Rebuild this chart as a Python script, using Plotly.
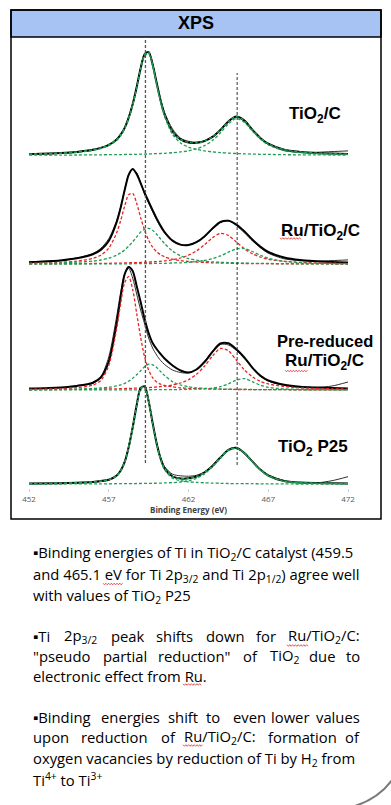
import plotly.graph_objects as go

# ---------------- data ----------------
BE = [452, 454, 455, 456, 456.5, 457, 457.5, 457.75, 458, 458.25, 458.5, 458.75, 459, 459.25,
      459.5, 459.75, 460, 460.25, 460.5, 461, 461.5, 462, 462.5, 463, 463.5, 464, 464.5, 465,
      465.5, 466, 466.5, 467, 468, 469, 470, 471, 472]

# TiO2/C
TIO2C_RAW = [1.0, 2.2, 3.4, 5.2, 7.8, 10.0, 16.8, 21.5, 28.2, 38.5, 51.8, 69.0, 87.6, 101.8, 103.9, 91.6, 73.9, 56.4, 43.0, 26.5, 17.3, 14.2, 13.3, 14.8, 18.9, 25.8, 34.3, 38.6, 35.6, 26.1, 17.2, 11.2, 4.8, 3.3, 3.2, 3.9, 4.6]
TIO2C_FIT = [1.4, 2.5, 3.6, 5.7, 7.6, 10.6, 16.1, 20.9, 27.6, 37.8, 51.2, 68.4, 87.3, 101.2, 103.3, 91.2, 72.8, 55.1, 41.2, 23.9, 16.2, 13.1, 12.7, 14.4, 18.6, 25.5, 34.0, 38.9, 34.9, 25.8, 17.6, 11.8, 5.8, 3.6, 2.5, 1.9, 1.4]
TIO2C_P1 = [1.1, 2.1, 3.1, 5.1, 6.9, 9.8, 15.2, 20.0, 26.6, 36.7, 50.1, 67.2, 85.9, 99.8, 101.7, 89.5, 70.9, 53.1, 39.0, 21.1, 12.6, 8.4, 6.1, 4.6, 3.6, 2.9, 2.4, 2.0, 1.7, 1.4, 1.2, 1.1, 0.8, 0.7, 0.6, 0.5, 0.4]
TIO2C_P2 = [0.3, 0.4, 0.5, 0.6, 0.7, 0.8, 0.9, 0.9, 1.0, 1.1, 1.1, 1.2, 1.4, 1.4, 1.6, 1.7, 1.9, 2.0, 2.2, 2.8, 3.6, 4.7, 6.6, 9.8, 15.0, 22.6, 31.6, 36.9, 33.2, 24.4, 16.4, 10.7, 5.0, 2.9, 1.9, 1.4, 1.0]

# Ru/TiO2/C
RU_RAW = [2.4, 4.0, 6.3, 10.6, 15.8, 25.5, 44.0, 57.5, 74.6, 89.8, 94.6, 91.4, 81.6, 70.0, 60.9, 52.4, 44.2, 37.0, 30.9, 22.6, 19.3, 19.5, 22.4, 27.4, 35.0, 41.6, 43.8, 38.8, 31.5, 23.5, 16.6, 11.0, 5.4, 3.6, 3.1, 3.6, 4.3]
RU_FIT = [2.0, 3.8, 5.9, 9.9, 14.3, 23.2, 42.2, 56.7, 74.1, 89.4, 95.2, 90.2, 81.0, 71.2, 62.6, 54.0, 45.8, 38.5, 32.2, 23.7, 19.6, 19.2, 22.0, 27.8, 35.7, 42.2, 43.4, 39.6, 32.9, 24.7, 17.6, 12.2, 6.7, 4.1, 3.0, 2.2, 1.8]
RU_RED1 = [0.9, 1.8, 3.1, 5.8, 9.0, 16.0, 31.6, 43.8, 58.2, 69.6, 70.8, 60.9, 46.6, 33.8, 23.9, 17.1, 12.4, 9.5, 7.4, 5.0, 3.6, 2.7, 2.1, 1.7, 1.4, 1.2, 1.0, 0.8, 0.7, 0.6, 0.6, 0.5, 0.4, 0.3, 0.3, 0.2, 0.2]
RU_GREEN1 = [0.7, 1.3, 2.0, 3.1, 4.2, 6.0, 9.1, 11.4, 14.3, 18.0, 22.4, 27.2, 32.1, 34.9, 35.9, 33.9, 30.0, 25.2, 20.6, 13.1, 8.4, 5.6, 4.0, 3.0, 2.3, 1.9, 1.6, 1.3, 1.1, 0.9, 0.8, 0.7, 0.6, 0.4, 0.4, 0.3, 0.3]
RU_RED2 = [0.3, 0.5, 0.6, 0.7, 0.8, 0.9, 1.1, 1.1, 1.2, 1.4, 1.5, 1.6, 1.7, 1.9, 2.1, 2.3, 2.6, 2.9, 3.3, 4.4, 6.2, 9.0, 13.3, 19.4, 26.4, 30.8, 28.8, 22.2, 15.5, 10.5, 7.2, 5.0, 2.9, 1.9, 1.3, 1.0, 0.8]
RU_GREEN2 = [0.1, 0.2, 0.2, 0.3, 0.3, 0.3, 0.4, 0.4, 0.4, 0.4, 0.5, 0.5, 0.6, 0.6, 0.7, 0.7, 0.8, 0.9, 0.9, 1.2, 1.4, 1.9, 2.6, 3.7, 5.6, 8.3, 12.0, 15.3, 15.6, 12.7, 9.0, 6.0, 2.8, 1.5, 1.0, 0.7, 0.5]

# Pre-reduced Ru/TiO2/C
PRE_RAW = [1.2, 2.4, 4.5, 6.5, 13.0, 33.0, 74.0, 98.0, 116.0, 121.5, 112.0, 96.0, 80.0, 66.0, 52.0, 42.0, 35.0, 29.5, 25.5, 20.0, 17.5, 17.0, 20.8, 28.6, 38.8, 45.6, 45.0, 39.6, 31.4, 22.8, 14.2, 9.0, 4.6, 2.5, 2.5, 4.0, 8.0]
PRE_FIT = [1.5, 2.6, 4.1, 7.3, 12.5, 28.3, 67.2, 93.4, 115.8, 123.0, 119.0, 104.0, 88.0, 71.0, 57.0, 47.0, 41.0, 36.0, 31.5, 24.5, 19.5, 17.5, 20.5, 28.0, 38.1, 46.5, 46.7, 40.8, 32.7, 22.4, 14.4, 9.5, 5.2, 3.2, 2.4, 1.9, 1.4]
PRE_RED1 = [0.7, 1.4, 2.4, 4.9, 9.5, 24.4, 61.8, 86.8, 107.5, 113.4, 100.5, 76.8, 52.6, 33.0, 20.1, 12.3, 8.0, 5.8, 4.5, 3.1, 2.2, 1.7, 1.4, 1.1, 0.9, 0.8, 0.6, 0.5, 0.5, 0.4, 0.4, 0.3, 0.3, 0.2, 0.2, 0.2, 0.1]
PRE_GREEN1 = [0.4, 0.6, 0.9, 1.5, 2.0, 2.7, 4.1, 5.2, 6.7, 8.9, 11.7, 15.2, 19.3, 23.3, 25.8, 25.2, 22.6, 18.5, 14.5, 8.4, 5.0, 3.2, 2.2, 1.7, 1.3, 1.0, 0.8, 0.7, 0.6, 0.5, 0.4, 0.4, 0.3, 0.2, 0.2, 0.2, 0.2]
PRE_RED2 = [0.4, 0.5, 0.7, 0.8, 0.9, 1.1, 1.2, 1.3, 1.4, 1.6, 1.7, 1.9, 2.0, 2.2, 2.4, 2.7, 3.0, 3.4, 3.8, 5.1, 7.0, 10.3, 15.7, 23.8, 33.9, 41.5, 39.2, 29.8, 20.2, 13.2, 8.7, 6.1, 3.5, 2.2, 1.6, 1.2, 0.9]
PRE_GREEN2 = [0.0, 0.1, 0.1, 0.1, 0.1, 0.1, 0.1, 0.1, 0.2, 0.2, 0.2, 0.2, 0.2, 0.2, 0.2, 0.3, 0.3, 0.3, 0.3, 0.4, 0.5, 0.7, 0.9, 1.3, 2.0, 3.4, 6.1, 9.8, 11.4, 8.3, 4.9, 2.7, 1.1, 0.6, 0.4, 0.3, 0.2]

# TiO2 P25
P25_RAW = [0.3, 0.9, 1.2, 2.0, 2.6, 3.8, 8.0, 13.5, 22.8, 38.0, 57.5, 79.5, 96.4, 97.5, 82.4, 61.2, 41.6, 27.0, 17.6, 10.0, 8.4, 8.0, 8.9, 12.3, 18.6, 26.4, 33.8, 35.9, 30.6, 22.5, 14.9, 9.2, 3.6, 1.4, 1.2, 3.5, 7.5]
P25_FIT = [0.6, 1.0, 1.5, 2.3, 3.2, 4.6, 8.7, 13.7, 22.3, 37.0, 56.7, 78.9, 96.0, 97.8, 83.1, 61.4, 41.0, 25.7, 15.8, 7.7, 5.7, 5.9, 7.7, 11.7, 18.3, 26.7, 34.3, 36.4, 31.3, 22.8, 14.6, 8.7, 3.2, 1.6, 1.1, 0.9, 0.7]
P25_P1 = [0.4, 0.8, 1.2, 2.0, 2.8, 4.2, 8.2, 13.2, 21.8, 36.4, 56.1, 78.2, 95.3, 97.0, 82.3, 60.5, 40.0, 24.6, 14.5, 6.1, 3.5, 2.4, 1.8, 1.4, 1.1, 0.9, 0.7, 0.6, 0.5, 0.5, 0.4, 0.4, 0.3, 0.2, 0.2, 0.2, 0.2]
P25_P2 = [0.2, 0.2, 0.3, 0.3, 0.4, 0.4, 0.5, 0.5, 0.5, 0.6, 0.6, 0.7, 0.7, 0.8, 0.8, 0.9, 1.0, 1.1, 1.3, 1.6, 2.2, 3.5, 5.9, 10.3, 17.2, 25.8, 33.6, 35.8, 30.8, 22.3, 14.2, 8.3, 2.9, 1.4, 0.9, 0.7, 0.5]

PEAK_LINES_EV = [459.3, 465.05]          # Ti 2p3/2 and Ti 2p1/2 of TiO2
TICK_VALS = [452, 457, 462, 467, 472]
TICK_TEXT = ["452", "457", "462", "467", "472"]

# ---------------- geometry / style ----------------
W, H = 391, 805
ML, MR, MT, MB = 29, 43, 37, 317
PW, PH = W - ML - MR, H - MT - MB


def px(x):
    return (x - ML) / PW


def py(y):
    return (H - MB - y) / PH


GREEN = "#1f9d55"
RED = "#e8231f"
DASH = "3px,2px"
ARIAL = "Liberation Sans, Arial, sans-serif"
BODY = "Open Sans, Noto Sans, sans-serif"

spectra = [
    dict(off=332.5, raw=TIO2C_RAW, fit=TIO2C_FIT,
         comps=[(TIO2C_P1, GREEN), (TIO2C_P2, GREEN)], green_env=True),
    dict(off=223.8, raw=RU_RAW, fit=RU_FIT,
         comps=[(RU_RED1, RED), (RU_RED2, RED), (RU_GREEN1, GREEN), (RU_GREEN2, GREEN)], green_env=False),
    dict(off=98.0, raw=PRE_RAW, fit=PRE_FIT,
         comps=[(PRE_RED1, RED), (PRE_RED2, RED), (PRE_GREEN1, GREEN), (PRE_GREEN2, GREEN)], green_env=False),
    dict(off=3.8, raw=P25_RAW, fit=P25_FIT,
         comps=[(P25_P1, GREEN), (P25_P2, GREEN)], green_env=True),
]

fig = go.Figure()
for s in spectra:
    off = s["off"]

    def sh(arr, off=off):
        return [v + off for v in arr]

    fig.add_trace(go.Scatter(x=BE, y=sh(s["raw"]), mode="lines", hoverinfo="skip",
                             line=dict(color="#2e2e2e", width=1, shape="spline", smoothing=0.8)))
    fig.add_trace(go.Scatter(x=BE, y=sh(s["fit"]), mode="lines", hoverinfo="skip",
                             line=dict(color="#000000", width=2, shape="spline", smoothing=0.8)))
    for arr, col in s["comps"]:
        fig.add_trace(go.Scatter(x=BE, y=sh(arr), mode="lines", hoverinfo="skip",
                                 line=dict(color=col, width=1.3, dash=DASH, shape="spline", smoothing=0.8)))
    if s["green_env"]:
        fig.add_trace(go.Scatter(x=BE, y=sh(s["fit"]), mode="lines", hoverinfo="skip",
                                 line=dict(color=GREEN, width=1.4, dash=DASH, shape="spline", smoothing=0.8)))

shapes = []
# vertical reference lines
shapes.append(dict(type="line", xref="x", yref="y", x0=PEAK_LINES_EV[0], x1=PEAK_LINES_EV[0],
                   y0=25, y1=451, line=dict(color="#555555", width=1.3, dash="3px,2px")))
shapes.append(dict(type="line", xref="x", yref="y", x0=PEAK_LINES_EV[1], x1=PEAK_LINES_EV[1],
                   y0=23, y1=415, line=dict(color="#333333", width=1.0, dash="3px,2px")))
# title bar and frame
shapes.append(dict(type="rect", xref="paper", yref="paper", x0=px(11), x1=px(381), y0=py(37), y1=py(10),
                   fillcolor="#a6c3f4", line=dict(color="black", width=1.5), layer="below"))
shapes.append(dict(type="rect", xref="paper", yref="paper", x0=px(11), x1=px(381), y0=py(519), y1=py(10),
                   fillcolor="rgba(0,0,0,0)", line=dict(color="black", width=1.5)))
# page curl at bottom-right corner
shapes.append(dict(type="path", xref="paper", yref="paper",
                   path=f"M {px(392)},{py(780)} Q {px(379)},{py(798)} {px(355)},{py(806)}",
                   line=dict(color="#7a7a7a", width=2)))


def squiggle(x0, x1, y):
    pts = []
    x = x0
    i = 0
    while x <= x1:
        yy = y + (0.8 if i % 2 else -0.8)
        pts.append(f"{px(x)},{py(yy)}")
        x += 1.4
        i += 1
    return dict(type="path", xref="paper", yref="paper", path="M " + " L ".join(pts),
                line=dict(color="#e03030", width=0.8))


for (a, b, yy) in [(280, 302, 238.5), (285, 308, 371), (103, 123, 584),
                   (287, 308, 645.5), (183, 202, 684.5), (183, 203, 745.5)]:
    shapes.append(squiggle(a, b, yy))

ann = []


def add_text(text, x, y, size, family=BODY, xanchor="left", color="black"):
    ann.append(dict(text=text, x=px(x), y=py(y), xref="paper", yref="paper", showarrow=False,
                    xanchor=xanchor, yanchor="middle", borderpad=0,
                    font=dict(family=family, size=size, color=color)))


# chart texts
add_text("<b>XPS</b>", 196, 23.5, 18, ARIAL, "center")
add_text("<b>TiO<sub>2</sub>/C</b>", 315, 115, 17, ARIAL, "center")
add_text("<b>Ru/TiO<sub>2</sub>/C</b>", 320, 232, 17, ARIAL, "center")
add_text("<b>Pre-reduced</b>", 324.5, 341, 16.5, ARIAL, "center")
add_text("<b>Ru/TiO<sub>2</sub>/C</b>", 324, 362, 17, ARIAL, "center")
add_text("<b>TiO<sub>2</sub> P25</b>", 313, 448, 17, ARIAL, "center")
add_text("<b>Binding Energy (eV)</b>", 188.5, 509, 8, BODY, "center", "#404040")

# bullet paragraphs
FS = 14.8
full_lines = [
    ("\u25aaBinding energies of Ti in TiO<sub>2</sub>/C catalyst (459.5", 553),
    ("and 465.1 eV for Ti 2p<sub>3/2</sub> and Ti 2p<sub>1/2</sub>) agree well", 575),
    ("with values of TiO<sub>2</sub> P25", 595.5),
    ("electronic effect from Ru.", 676),
    ("oxygen vacancies by reduction of Ti by H<sub>2</sub> from", 759),
    ("Ti<sup>4+</sup> to Ti<sup>3+</sup>", 779.5),
]
for t, yy in full_lines:
    add_text(t, 31.5, yy, FS)

# justified lines: words placed where they sit in the reference
justified = [
    (636, [("\u25aaTi", 31.5), ("2p<sub>3/2</sub>", 63), ("peak", 110), ("shifts", 155), ("down", 205),
           ("for", 255)], "Ru/TiO<sub>2</sub>/C:"),
    (656, [("\"pseudo", 31.5), ("partial", 101.5), ("reduction\"", 156.5), ("of", 241.5),
           ("TiO<sub>2</sub>", 269), ("due", 308)], "to"),
    (717, [("\u25aaBinding", 31.5), ("energies", 100), ("shift", 166.5), ("to", 205), ("even", 231.5),
           ("lower", 270)], "values"),
    (737, [("upon", 31.5), ("reduction", 80), ("of", 160), ("Ru/TiO<sub>2</sub>/C:", 183),
           ("formation", 266.5)], "of"),
]
for yy, words, last in justified:
    for w, xx in words:
        add_text(w, xx, yy, FS)
    add_text(last, 360.5, yy, FS, xanchor="right")

fig.update_layout(
    width=W, height=H, margin=dict(l=ML, r=MR, t=MT, b=MB),
    paper_bgcolor="white", plot_bgcolor="rgba(0,0,0,0)", showlegend=False,
    xaxis=dict(range=[452, 472], tickvals=TICK_VALS, ticktext=TICK_TEXT, ticks="outside", ticklen=3,
               tickcolor="#d0d0d0", showline=False, showgrid=False, zeroline=False, automargin=False,
               tickfont=dict(family=BODY, size=8, color="#595959"), fixedrange=True),
    yaxis=dict(range=[0, PH], visible=False, fixedrange=True, automargin=False),
    shapes=shapes, annotations=ann,
)

fig.write_html("out.html", config={"displayModeBar": False, "staticPlot": True},
               post_script="document.body.style.margin='0';document.body.style.overflow='hidden';")
